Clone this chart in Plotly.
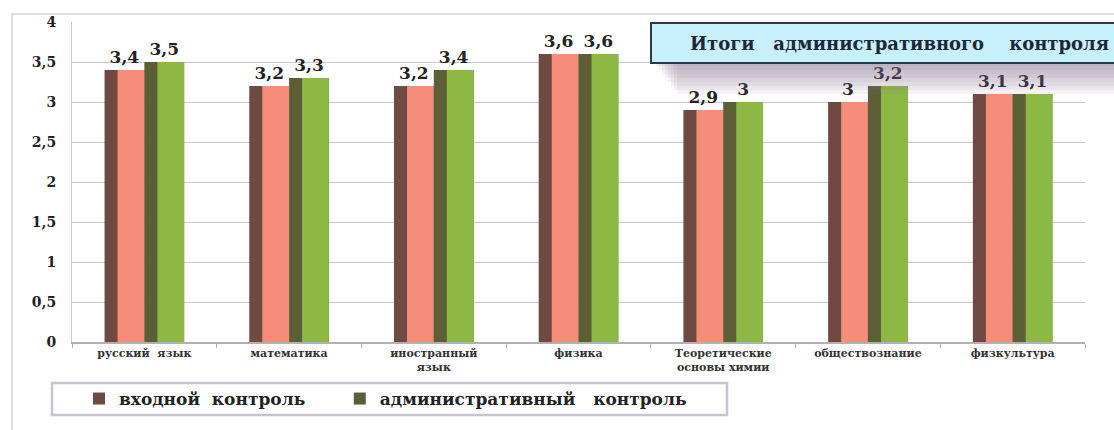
import plotly.graph_objects as go

categories = ["русский  язык", "математика", "иностранный<br>язык", "физика",
              "Теоретические<br>основы химии", "обществознание", "физкультура"]
vhodnoy = [3.4, 3.2, 3.2, 3.6, 2.9, 3.0, 3.1]
admin = [3.5, 3.3, 3.4, 3.6, 3.0, 3.2, 3.1]
series_names = ["входной  контроль", "административный   контроль"]
title_text = "Итоги   административного    контроля"

W, H = 1114, 430
ML, MR, MT, MB = 72, 29, 22, 88
PW = W - ML - MR
PH = H - MT - MB

def px(x):
    return (x - ML) / PW

def py(y):
    return (H - MB - y) / PH

bw = 0.275
side = 0.09
serif = "Liberation Serif"
wide = "DejaVu Serif"

def lab(vals):
    return [f"{v:g}".replace(".", ",") for v in vals]

fig = go.Figure()
fig.add_trace(go.Bar(x=categories, y=vhodnoy, name=series_names[0] + "\u00a0" * 5, width=bw, offset=-bw,
                     marker=dict(color="#6e4a42", line=dict(width=0)),
                     text=lab(vhodnoy), textposition="outside",
                     textfont=dict(family=wide, size=17, color="#222222", weight="bold"),
                     cliponaxis=False, showlegend=True))
fig.add_trace(go.Bar(x=categories, y=vhodnoy, name=series_names[0], width=bw - side, offset=-bw + side,
                     marker=dict(color="#f58d78", line=dict(width=0)), showlegend=False,
                     hoverinfo="skip"))
fig.add_trace(go.Bar(x=categories, y=admin, name=series_names[1], width=bw, offset=0,
                     marker=dict(color="#5c5e36", line=dict(width=0)),
                     text=lab(admin), textposition="outside",
                     textfont=dict(family=wide, size=17, color="#222222", weight="bold"),
                     cliponaxis=False, showlegend=True))
fig.add_trace(go.Bar(x=categories, y=admin, name=series_names[1], width=bw - side, offset=side,
                     marker=dict(color="#8cb844", line=dict(width=0)), showlegend=False,
                     hoverinfo="skip"))

shapes = [
    dict(type="rect", xref="paper", yref="paper", x0=px(12), x1=px(1130), y0=py(14), y1=py(445),
         line=dict(color="#d4d4dc", width=1.5), fillcolor="rgba(0,0,0,0)", layer="below"),
    # legend frame
    dict(type="rect", xref="paper", yref="paper", x0=px(52), x1=px(727), y0=py(383), y1=py(415),
         line=dict(color="#c4c4d4", width=2.5), fillcolor="white", layer="below"),
]
# soft shadow under the title box
for i in range(8):
    shapes.append(dict(type="rect", xref="paper", yref="paper", x0=px(656 + 3 * i), x1=px(1130),
                       y0=py(60), y1=py(66 + 4 * i), line=dict(width=0),
                       fillcolor="rgba(135,110,145,0.09)", layer="above"))
shapes.append(dict(type="rect", xref="paper", yref="paper", x0=px(651), x1=px(1130), y0=py(23), y1=py(63),
                   line=dict(color="#2a3a44", width=2), fillcolor="#c8f0fc", layer="above"))

fig.add_annotation(xref="paper", yref="paper", x=px(688), y=py(43), xanchor="left", yanchor="middle",
                   text=f"<b>{title_text}</b>", showarrow=False,
                   font=dict(family=wide, size=18, color="#1a2838"))

fig.update_layout(
    width=W, height=H,
    margin=dict(l=ML, r=MR, t=MT, b=MB),
    paper_bgcolor="white", plot_bgcolor="white",
    barmode="overlay",
    separators=", ",
    shapes=shapes,
    font=dict(family=serif, color="#222222"),
    xaxis=dict(type="category", tickson="boundaries", ticks="outside", ticklen=4,
               tickcolor="#b0b0b8", showline=True, linecolor="#b0b0b8", linewidth=1.5,
               tickfont=dict(family=wide, size=11, color="#333333", weight="bold"),
               showgrid=False, range=[-0.5, 6.5], fixedrange=True),
    yaxis=dict(range=[0, 4], dtick=0.5, showgrid=True, gridcolor="#c8c8d0", gridwidth=1,
               showline=True, linecolor="#c8c8d0", linewidth=1, ticks="", ticklen=0,
               ticklabelstandoff=12,
               tickfont=dict(family=wide, size=14, color="#222222", weight="bold"),
               zeroline=False, fixedrange=True),
    legend=dict(orientation="h", x=px(79), y=py(399), xanchor="left", yanchor="middle",
                borderwidth=0, bgcolor="rgba(0,0,0,0)",
                font=dict(family=wide, size=17, color="#222222", weight="bold"),
                itemsizing="constant", itemwidth=30),
)

fig.write_html("out.html", config={"displayModeBar": False},
               post_script="document.body.style.margin='0';")
